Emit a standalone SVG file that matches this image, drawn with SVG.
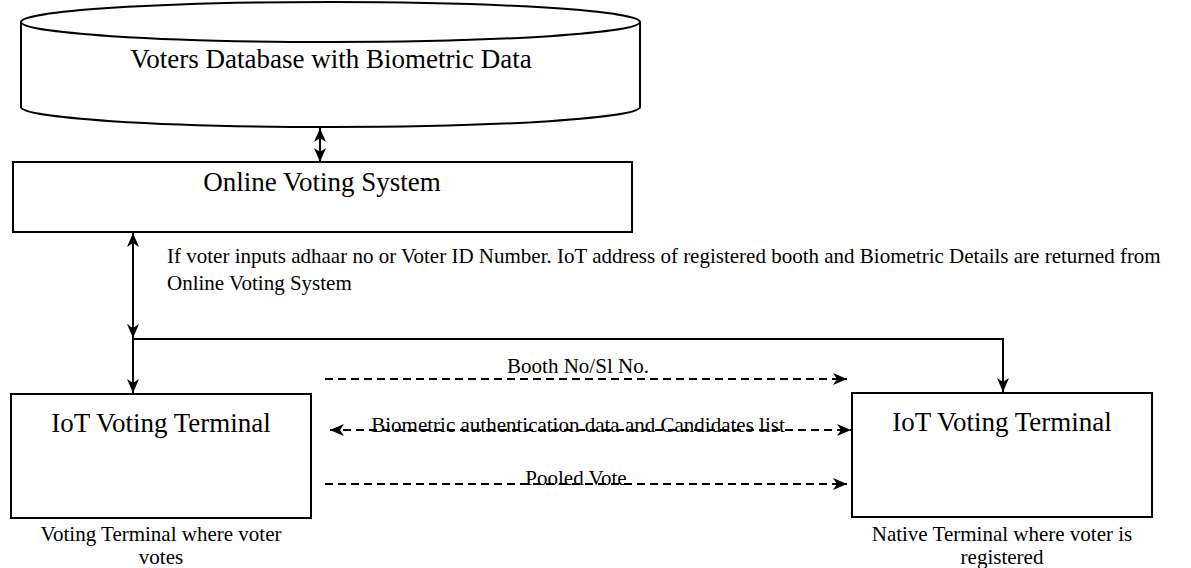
<svg xmlns="http://www.w3.org/2000/svg" width="1191" height="568" viewBox="0 0 1191 568">
  <defs>
    <marker id="arr" viewBox="0 0 14 12" refX="14" refY="6" markerWidth="14" markerHeight="12" markerUnits="userSpaceOnUse" orient="auto-start-reverse">
      <path d="M0,0 L14,6 L0,12 L4,6 Z" fill="#000"/>
    </marker>
  </defs>
  <style>
    .shape { fill: #fff; stroke: #000; stroke-width: 2; }
    .t { font-family: "Liberation Serif", "Times New Roman", serif; fill: #000; }
    .big { font-size: 27px; text-anchor: middle; }
    .mid { font-size: 21px; }
    .c { text-anchor: middle; }
    .conn { fill: none; stroke: #000; stroke-width: 2; }
    .dash { stroke-dasharray: 8 5; }
  </style>
  <rect width="1191" height="568" fill="#fff"/>

  <g id="database">
    <path class="shape" d="M21,22 L21,107 A309.5,20 0 0 0 640,107 L640,22 A309.5,20 0 0 0 21,22 Z"/>
    <path class="shape" fill="none" d="M21,22 A309.5,20 0 0 0 640,22"/>
    <text class="t big" x="331" y="68">Voters Database with Biometric Data</text>
  </g>

  <g id="online-voting-system">
    <rect class="shape" x="13" y="162" width="619" height="70"/>
    <text class="t big" x="322" y="191">Online Voting System</text>
  </g>

  <g id="iot-terminal-left">
    <rect class="shape" x="11" y="394" width="300" height="124"/>
    <text class="t big" x="161" y="432">IoT Voting Terminal</text>
    <text class="t mid c" x="161" y="541">Voting Terminal where voter</text>
    <text class="t mid c" x="161" y="564">votes</text>
  </g>

  <g id="iot-terminal-right">
    <rect class="shape" x="852" y="393" width="300" height="124"/>
    <text class="t big" x="1002" y="431">IoT Voting Terminal</text>
    <text class="t mid c" x="1002" y="541">Native Terminal where voter is</text>
    <text class="t mid c" x="1002" y="564">registered</text>
  </g>

  <g id="connectors">
    <line class="conn" x1="320" y1="128" x2="320" y2="162" marker-start="url(#arr)" marker-end="url(#arr)"/>
    <line class="conn" x1="133" y1="233" x2="133" y2="338" marker-start="url(#arr)" marker-end="url(#arr)"/>
    <polyline class="conn" points="132,339 1003,339 1003,392" marker-end="url(#arr)"/>
    <line class="conn" x1="133" y1="339" x2="133" y2="393" marker-end="url(#arr)"/>
    <line class="conn dash" x1="325" y1="379" x2="847" y2="379" marker-end="url(#arr)"/>
    <line class="conn dash" x1="330" y1="430" x2="851" y2="430" marker-start="url(#arr)" marker-end="url(#arr)"/>
    <line class="conn dash" x1="325" y1="484" x2="847" y2="484" marker-end="url(#arr)"/>
    <text class="t mid" x="167" y="263">If voter inputs adhaar no or Voter ID Number. IoT address of registered booth and Biometric Details are returned from</text>
    <text class="t mid" x="167" y="290">Online Voting System</text>
    <text class="t mid c" x="578" y="373">Booth No/Sl No.</text>
    <text class="t mid c" x="578" y="432">Biometric authentication data and Candidates list</text>
    <text class="t mid c" x="576" y="485">Pooled Vote</text>
  </g>
</svg>
